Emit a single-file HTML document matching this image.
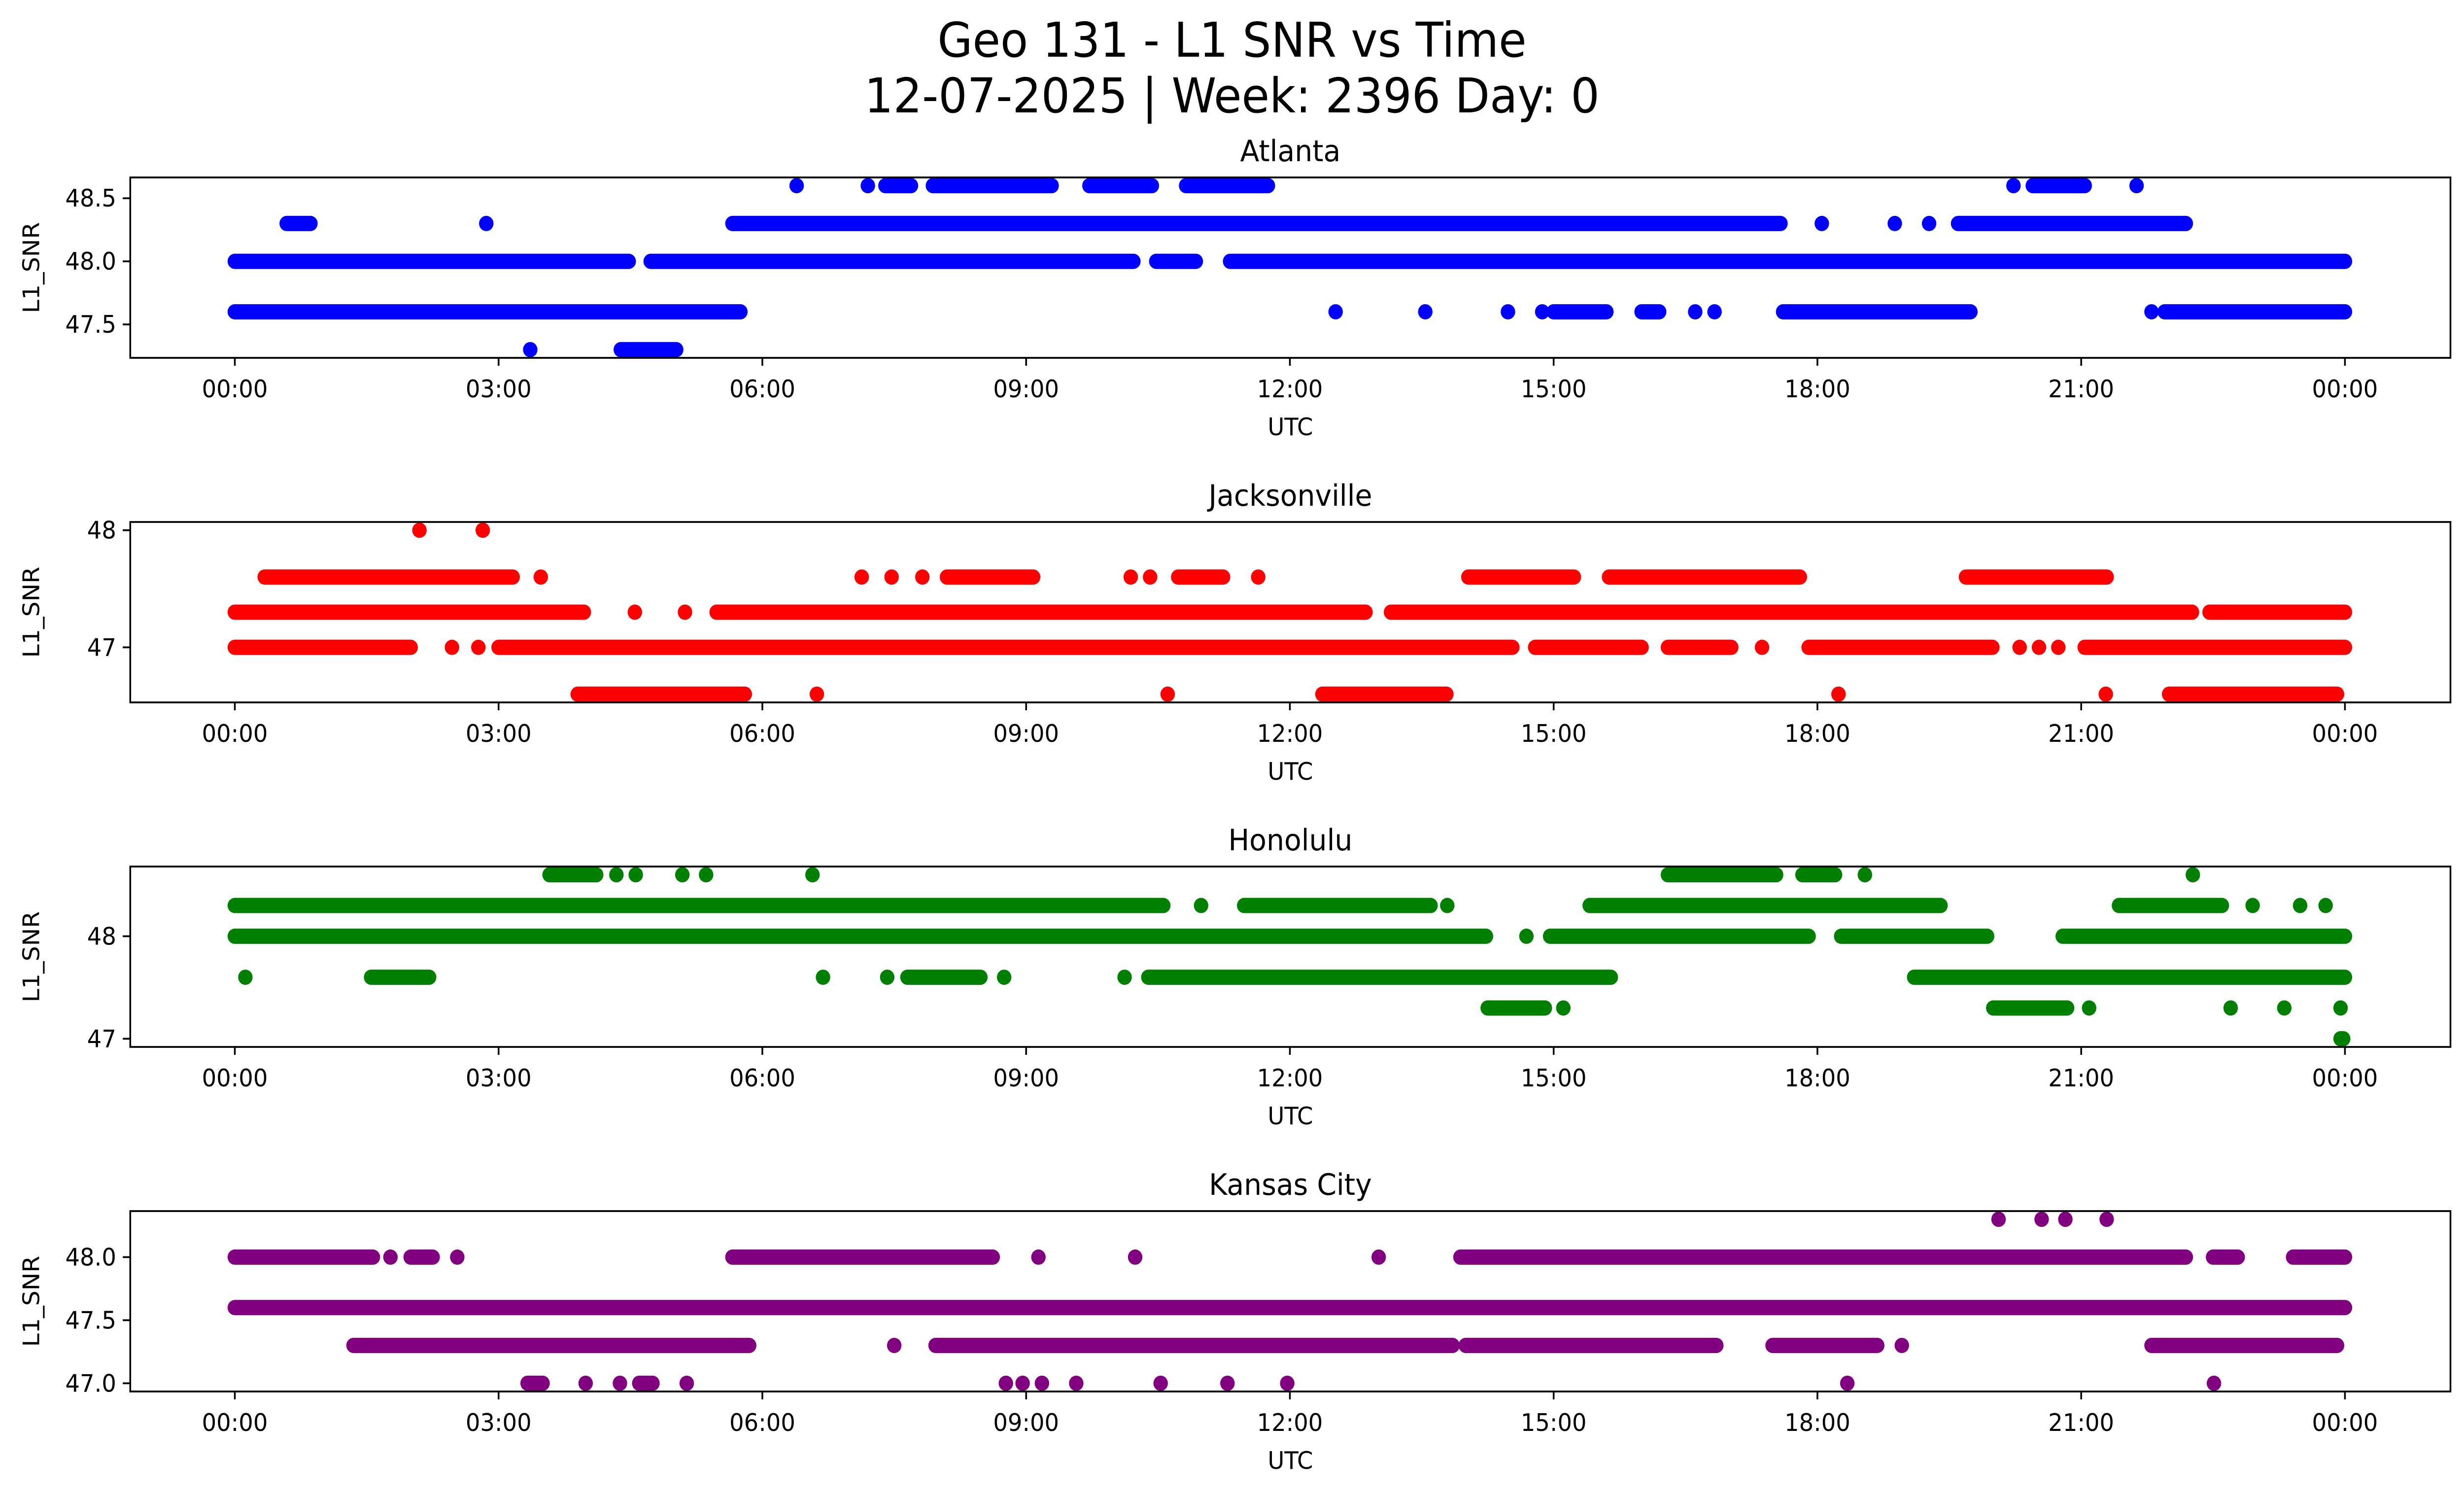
<!DOCTYPE html>
<html><head><meta charset="utf-8"><style>
html,body{margin:0;padding:0;background:#fff;width:100%;height:100%;overflow:hidden;}
svg{display:block;position:absolute;left:0;top:0;width:100%;height:100%;font-family:"DejaVu Sans","Liberation Sans",sans-serif;}
</style></head><body>
<svg id="fig" viewBox="0 0 5278 3033" preserveAspectRatio="none" xmlns="http://www.w3.org/2000/svg">
<rect width="5278" height="3033" fill="#fff"/>
<text x="2639" y="115" font-size="97" text-anchor="middle">Geo 131 - L1 SNR vs Time</text>
<text x="2639" y="228" font-size="97" text-anchor="middle">12-07-2025 | Week: 2396 Day: 0</text>
</svg>
<script>
// ---- data (hours UTC runs [start,end] per SNR level) ----
const stations = ["Atlanta","Jacksonville","Honolulu","Kansas City"];
const colors = ["#0000ff","#ff0000","#008000","#800080"];
const yMins = [47.3,46.6,47.0,47.0];
const yMaxs = [48.6,48.0,48.6,48.3];
const yTicks0 = [47.5,48.0,48.5];
const yTicks1 = [47,48];
const yTicks2 = [47,48];
const yTicks3 = [47.0,47.5,48.0];
const yTickLabels0 = ["47.5","48.0","48.5"];
const yTickLabels1 = ["47","48"];
const yTickLabels2 = ["47","48"];
const yTickLabels3 = ["47.0","47.5","48.0"];
const xTicks = [0,3,6,9,12,15,18,21,24];
const xTickLabels = ["00:00","03:00","06:00","09:00","12:00","15:00","18:00","21:00","00:00"];

const atlLevels = [48.6,48.3,48.0,47.6,47.3];
const atlRuns = [
 [[6.39,6.39],[7.2,7.2],[7.4,7.69],[7.94,9.29],[9.72,10.43],[10.82,11.75],[20.23,20.23],[20.45,21.04],[21.63,21.63]],
 [[0.59,0.86],[2.86,2.86],[5.66,17.58],[18.05,18.05],[18.88,18.88],[19.27,19.27],[19.6,22.19]],
 [[0,4.48],[4.73,10.22],[10.48,10.93],[11.32,24]],
 [[0,5.75],[12.52,12.52],[13.54,13.54],[14.48,14.48],[14.87,14.87],[15.0,15.6],[16.0,16.2],[16.61,16.61],[16.83,16.83],[17.61,19.74],[21.8,21.8],[21.95,24]],
 [[3.36,3.36],[4.39,5.02]]
];
const jaxLevels = [48.0,47.6,47.3,47.0,46.6];
const jaxRuns = [
 [[2.1,2.1],[2.82,2.82]],
 [[0.34,3.16],[3.48,3.48],[7.13,7.13],[7.47,7.47],[7.82,7.82],[8.1,9.08],[10.19,10.19],[10.41,10.41],[10.73,11.24],[11.64,11.64],[14.03,15.23],[15.63,17.8],[19.69,21.29]],
 [[0,3.97],[4.55,4.55],[5.12,5.12],[5.48,12.86],[13.15,22.26],[22.46,24]],
 [[0,2.0],[2.47,2.47],[2.77,2.77],[3.0,14.53],[14.79,16.0],[16.3,17.02],[17.37,17.37],[17.9,19.99],[20.3,20.3],[20.52,20.52],[20.74,20.74],[21.04,24]],
 [[3.9,5.8],[6.62,6.62],[10.61,10.61],[12.37,13.78],[18.24,18.24],[21.28,21.28],[22.0,23.91]]
];
const hnlLevels = [48.6,48.3,48.0,47.6,47.3,47.0];
const hnlRuns = [
 [[3.58,4.11],[4.34,4.34],[4.56,4.56],[5.09,5.09],[5.36,5.36],[6.57,6.57],[16.3,17.53],[17.83,18.2],[18.54,18.54],[22.27,22.27]],
 [[0,10.56],[10.99,10.99],[11.48,13.6],[13.79,13.79],[15.41,19.4],[21.43,22.6],[22.95,22.95],[23.49,23.49],[23.78,23.78]],
 [[0,14.23],[14.69,14.69],[14.96,17.9],[18.27,19.93],[20.79,24]],
 [[0.12,0.12],[1.55,2.21],[6.69,6.69],[7.42,7.42],[7.65,8.48],[8.75,8.75],[10.12,10.12],[10.39,15.65],[19.1,24]],
 [[14.25,14.9],[15.11,15.11],[20.0,20.84],[21.09,21.09],[22.7,22.7],[23.31,23.31],[23.95,23.95]],
 [[23.95,23.98]]
];
const kcLevels = [48.3,48.0,47.6,47.3,47.0];
const kcRuns = [
 [[20.06,20.06],[20.55,20.55],[20.82,20.82],[21.29,21.29]],
 [[0,1.57],[1.77,1.77],[2.0,2.25],[2.53,2.53],[5.66,8.62],[9.14,9.14],[10.24,10.24],[13.01,13.01],[13.94,22.19],[22.5,22.78],[23.41,24]],
 [[0,24]],
 [[1.35,5.85],[7.5,7.5],[7.97,13.85],[14.0,16.85],[17.49,18.68],[18.96,18.96],[21.8,23.91]],
 [[3.33,3.5],[3.99,3.99],[4.38,4.38],[4.6,4.75],[5.14,5.14],[8.77,8.77],[8.96,8.96],[9.18,9.18],[9.57,9.57],[10.53,10.53],[11.29,11.29],[11.97,11.97],[18.34,18.34],[22.51,22.51]]
];
const allLevels = [atlLevels,jaxLevels,hnlLevels,kcLevels];
const allRuns = [atlRuns,jaxRuns,hnlRuns,kcRuns];
const allYTicks = [yTicks0,yTicks1,yTicks2,yTicks3];
const allYTickLabels = [yTickLabels0,yTickLabels1,yTickLabels2,yTickLabels3];

// ---- layout ----
const NS="http://www.w3.org/2000/svg";
const svg=document.getElementById('fig');
const L=279,R=5249,H=366,tops=[360,1059,1758,2457];
const X0=503,X24=5023;
function xs(h){return X0+(X24-X0)*h/24;}
function mk(tag,attrs,parent){const e=document.createElementNS(NS,tag);for(const k in attrs)e.setAttribute(k,attrs[k]);(parent||svg).appendChild(e);return e;}

stations.forEach((name,p)=>{
  const T=tops[p],B=T+H;
  const span=yMaxs[p]-yMins[p],lo=yMins[p]-0.05*span,hi=yMaxs[p]+0.05*span;
  const ys=v=>B-(v-lo)/(hi-lo)*H;
  const g=mk('g',{});
  
  
  const sg=mk('g',{fill:colors[p],stroke:colors[p]},g);
  
  
  allLevels[p].forEach((lv,i)=>{
    allRuns[p][i].forEach(r=>{
      let el;
      if(r[0]===r[1]){el=mk('circle',{cx:xs(r[0]),cy:ys(lv),r:15.5,stroke:'none'},sg);}
      else{el=mk('line',{x1:xs(r[0]),x2:xs(r[1]),y1:ys(lv),y2:ys(lv),'stroke-width':31,'stroke-linecap':'round'},sg);}
      
      
    });
  });
  const fr=mk('rect',{x:L,y:T,width:R-L,height:H,fill:'none',stroke:'#000','stroke-width':3.7},g);
  
  
  const t=mk('text',{x:(L+R)/2,y:T-33,'font-size':60,'text-anchor':'middle'},g);t.textContent=name;
  
  
  xTicks.forEach((h,i)=>{
    mk('line',{x1:xs(h),x2:xs(h),y1:B,y2:B+16,stroke:'#000','stroke-width':3.7},g);
    const tl=mk('text',{x:xs(h),y:B+80,'font-size':49,'text-anchor':'middle'},g);tl.textContent=xTickLabels[i];
    
    
  });
  const xl=mk('text',{x:(L+R)/2,y:B+157,'font-size':49,'text-anchor':'middle'},g);xl.textContent='UTC';
  
  
  allYTicks[p].forEach((v,i)=>{
    mk('line',{x1:L-16,x2:L,y1:ys(v),y2:ys(v),stroke:'#000','stroke-width':3.7},g);
    const yl=mk('text',{x:L-30,y:ys(v)+17,'font-size':49,'text-anchor':'end'},g);yl.textContent=allYTickLabels[p][i];
    
    
  });
  const yt=mk('text',{x:0,y:0,'font-size':49,'text-anchor':'middle',transform:`translate(84,${T+H/2}) rotate(-90)`},g);yt.textContent='L1_SNR';
  
  
});
</script>
</body></html>
